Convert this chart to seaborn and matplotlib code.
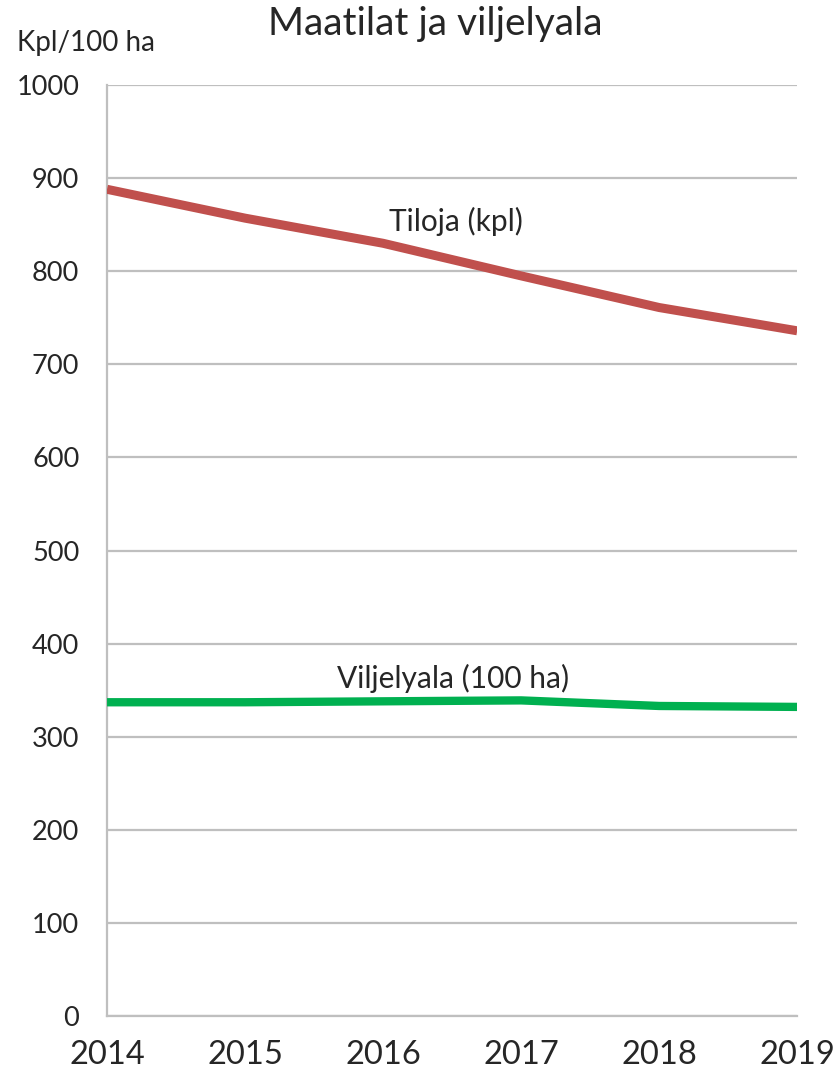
import matplotlib
matplotlib.use('Agg')
import matplotlib.pyplot as plt
import seaborn as sns
import pandas as pd

# Data
years = [2014, 2015, 2016, 2017, 2018, 2019]
tiloja = [888, 857, 830, 795, 761, 736]
viljelyala = [337, 337, 338, 339, 333, 332]

RED = '#C0504D'
GREEN = '#00B050'
GRID = '#BFBFBF'
TEXT = '#262626'

sns.set_style('white')
plt.rcParams['font.family'] = ['Lato', 'DejaVu Sans']

df = pd.DataFrame({'Vuosi': years, 'Tiloja': tiloja, 'Viljelyala': viljelyala})

fig = plt.figure(figsize=(8.33, 10.79), dpi=100)
ax = fig.add_axes([0.1285, 0.0584, 0.8285, 0.8628])

sns.lineplot(data=df, x='Vuosi', y='Tiloja', ax=ax, color=RED, linewidth=6.5,
             solid_capstyle='butt', zorder=3)
sns.lineplot(data=df, x='Vuosi', y='Viljelyala', ax=ax, color=GREEN, linewidth=6,
             solid_capstyle='butt', zorder=3)

ax.set_xlim(2014, 2019)
ax.set_ylim(0, 1000)
ax.set_xticks(years)
ax.set_yticks(range(0, 1001, 100))
ax.yaxis.grid(True, color=GRID, linewidth=1.6)
ax.set_axisbelow(True)

for side in ['top', 'right']:
    ax.spines[side].set_visible(False)
for side in ['left', 'bottom']:
    ax.spines[side].set_color(GRID)
    ax.spines[side].set_linewidth(1.6)

ax.tick_params(axis='y', length=9, width=1.6, color=GRID, labelsize=19.5, labelcolor=TEXT, pad=11)
ax.tick_params(axis='x', length=10, width=1.6, color=GRID, labelsize=23.5, labelcolor=TEXT, pad=7)
ax.set_xlabel('')
ax.set_ylabel('')

fig.text(0.522, 0.978, 'Maatilat ja viljelyala', ha='center', va='center', fontsize=28, color=TEXT)
fig.text(0.02, 0.960, 'Kpl/100 ha', ha='left', va='center', fontsize=20, color=TEXT)

ax.text(2016.53, 853, 'Tiloja (kpl)', ha='center', va='center', fontsize=21.5, color=TEXT)
ax.text(2016.51, 363, 'Viljelyala (100 ha)', ha='center', va='center', fontsize=21.5, color=TEXT)

fig.savefig('out.png', dpi=100)
plt.close(fig)
